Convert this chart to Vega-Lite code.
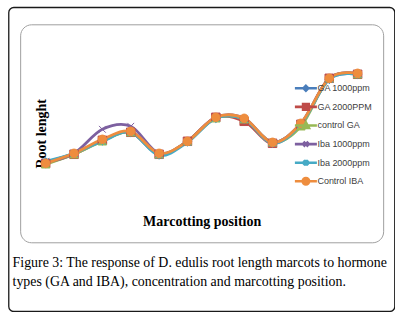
{
  "$schema": "https://vega.github.io/schema/vega-lite/v6.json",
  "padding": {"left": 7.4, "top": 6.3, "right": 0, "bottom": 0},
  "background": "white",
  "columns": 1,
  "align": {"row": "none", "column": "each"},
  "center": true,
  "spacing": -237,
  "config": {"view": {"fill": null}},
  "concat": [
    {
      "width": 363,
      "height": 218,
      "view": {"stroke": "#a0a0a0", "strokeWidth": 1, "cornerRadius": 11},
      "data": {"values": [
        {"series": "GA 1000ppm", "position": 1, "length": 8.0},
        {"series": "GA 1000ppm", "position": 2, "length": 8.9},
        {"series": "GA 1000ppm", "position": 3, "length": 10.2},
        {"series": "GA 1000ppm", "position": 4, "length": 11.0},
        {"series": "GA 1000ppm", "position": 5, "length": 8.8},
        {"series": "GA 1000ppm", "position": 6, "length": 10.1},
        {"series": "GA 1000ppm", "position": 7, "length": 12.4},
        {"series": "GA 1000ppm", "position": 8, "length": 12.3},
        {"series": "GA 1000ppm", "position": 9, "length": 10.0},
        {"series": "GA 1000ppm", "position": 10, "length": 11.8},
        {"series": "GA 1000ppm", "position": 11, "length": 16.3},
        {"series": "GA 1000ppm", "position": 12, "length": 16.8},
        {"series": "GA 2000PPM", "position": 1, "length": 7.9},
        {"series": "GA 2000PPM", "position": 2, "length": 8.8},
        {"series": "GA 2000PPM", "position": 3, "length": 10.2},
        {"series": "GA 2000PPM", "position": 4, "length": 11.0},
        {"series": "GA 2000PPM", "position": 5, "length": 8.8},
        {"series": "GA 2000PPM", "position": 6, "length": 10.1},
        {"series": "GA 2000PPM", "position": 7, "length": 12.5},
        {"series": "GA 2000PPM", "position": 8, "length": 12.1},
        {"series": "GA 2000PPM", "position": 9, "length": 9.9},
        {"series": "GA 2000PPM", "position": 10, "length": 11.8},
        {"series": "GA 2000PPM", "position": 11, "length": 16.4},
        {"series": "GA 2000PPM", "position": 12, "length": 16.8},
        {"series": "control GA", "position": 1, "length": 7.8},
        {"series": "control GA", "position": 2, "length": 8.8},
        {"series": "control GA", "position": 3, "length": 10.1},
        {"series": "control GA", "position": 4, "length": 11.0},
        {"series": "control GA", "position": 5, "length": 8.8},
        {"series": "control GA", "position": 6, "length": 10.1},
        {"series": "control GA", "position": 7, "length": 12.4},
        {"series": "control GA", "position": 8, "length": 12.3},
        {"series": "control GA", "position": 9, "length": 10.0},
        {"series": "control GA", "position": 10, "length": 11.6},
        {"series": "control GA", "position": 11, "length": 16.4},
        {"series": "control GA", "position": 12, "length": 16.8},
        {"series": "Iba 1000ppm", "position": 1, "length": 8.0},
        {"series": "Iba 1000ppm", "position": 2, "length": 8.9},
        {"series": "Iba 1000ppm", "position": 3, "length": 11.3},
        {"series": "Iba 1000ppm", "position": 4, "length": 11.6},
        {"series": "Iba 1000ppm", "position": 5, "length": 8.9},
        {"series": "Iba 1000ppm", "position": 6, "length": 10.1},
        {"series": "Iba 1000ppm", "position": 7, "length": 12.5},
        {"series": "Iba 1000ppm", "position": 8, "length": 12.4},
        {"series": "Iba 1000ppm", "position": 9, "length": 10.0},
        {"series": "Iba 1000ppm", "position": 10, "length": 11.9},
        {"series": "Iba 1000ppm", "position": 11, "length": 16.4},
        {"series": "Iba 1000ppm", "position": 12, "length": 16.9},
        {"series": "Iba 2000ppm", "position": 1, "length": 8.1},
        {"series": "Iba 2000ppm", "position": 2, "length": 8.9},
        {"series": "Iba 2000ppm", "position": 3, "length": 10.1},
        {"series": "Iba 2000ppm", "position": 4, "length": 11.0},
        {"series": "Iba 2000ppm", "position": 5, "length": 8.7},
        {"series": "Iba 2000ppm", "position": 6, "length": 10.0},
        {"series": "Iba 2000ppm", "position": 7, "length": 12.4},
        {"series": "Iba 2000ppm", "position": 8, "length": 12.3},
        {"series": "Iba 2000ppm", "position": 9, "length": 9.9},
        {"series": "Iba 2000ppm", "position": 10, "length": 11.8},
        {"series": "Iba 2000ppm", "position": 11, "length": 16.3},
        {"series": "Iba 2000ppm", "position": 12, "length": 16.8},
        {"series": "Control IBA", "position": 1, "length": 7.9},
        {"series": "Control IBA", "position": 2, "length": 8.9},
        {"series": "Control IBA", "position": 3, "length": 10.3},
        {"series": "Control IBA", "position": 4, "length": 11.1},
        {"series": "Control IBA", "position": 5, "length": 8.9},
        {"series": "Control IBA", "position": 6, "length": 10.1},
        {"series": "Control IBA", "position": 7, "length": 12.5},
        {"series": "Control IBA", "position": 8, "length": 12.4},
        {"series": "Control IBA", "position": 9, "length": 10.0},
        {"series": "Control IBA", "position": 10, "length": 11.9},
        {"series": "Control IBA", "position": 11, "length": 16.4},
        {"series": "Control IBA", "position": 12, "length": 16.9}
      ]},
      "encoding": {
        "x": {
          "field": "position", "type": "ordinal",
          "scale": {"type": "point", "padding": 0.9},
          "axis": {"labels": false, "ticks": false, "domain": false, "grid": false,
            "title": "Marcotting position", "titleFont": "Liberation Serif", "titleFontSize": 14,
            "titleFontWeight": "bold", "titleColor": "black", "titleY": -21, "titleBaseline": "middle",
            "minExtent": 0, "maxExtent": 0}
        },
        "y": {
          "field": "length", "type": "quantitative",
          "scale": {"domain": [0, 21.8], "nice": false, "zero": false},
          "axis": {"labels": false, "ticks": false, "domain": false, "grid": false,
            "title": "Root lenght", "titleFont": "Liberation Serif", "titleFontSize": 14,
            "titleFontWeight": "bold", "titleColor": "black", "titleX": 21, "titleY": 109,
            "titleAngle": -90, "titleBaseline": "middle", "titleAlign": "center",
            "minExtent": 0, "maxExtent": 0}
        },
        "color": {
          "field": "series", "type": "nominal",
          "scale": {
            "domain": ["GA 1000ppm", "GA 2000PPM", "control GA", "Iba 1000ppm", "Iba 2000ppm", "Control IBA"],
            "range": ["#4a7ebb", "#be4b48", "#98b954", "#7d60a0", "#46aac5", "#ee8d3e"]
          },
          "legend": {
            "orient": "none", "legendX": 292, "legendY": 58.5, "title": null, "padding": 0,
            "symbolSize": 64, "rowPadding": 1.6, "labelOffset": 6,
            "labelFont": "Liberation Sans", "labelFontSize": 9, "labelColor": "#404040",
            "encode": {
              "symbols": {
                "update": {
                  "shape": {"signal": "datum.value === 'GA 1000ppm' ? 'M-2.75,0L2.75,0M0,-0.6L0.6,0L0,0.6L-0.6,0Z' : datum.value === 'GA 2000PPM' ? 'M-2.75,0L2.75,0M-0.7,-0.7L0.7,-0.7L0.7,0.7L-0.7,0.7Z' : datum.value === 'control GA' ? 'M-2.75,0L2.75,0M0,-0.75L0.75,0.6L-0.75,0.6Z' : datum.value === 'Iba 1000ppm' ? 'M-2.75,0L2.75,0M-0.6,-0.6L0.6,0.6M-0.6,0.6L0.6,-0.6' : datum.value === 'Iba 2000ppm' ? 'M-2.75,0L2.75,0M-0.6,-0.6L0.6,0.6M-0.6,0.6L0.6,-0.6M0,-0.75L0,0.75' : 'M-2.75,0L2.75,0M-0.8,0A0.8,0.8 0 1,0 0.8,0A0.8,0.8 0 1,0 -0.8,0Z'"},
                  "fill": {"signal": "scale('color', datum.value)"},
                  "stroke": {"signal": "scale('color', datum.value)"},
                  "strokeWidth": {"value": 2.6},
                  "opacity": {"value": 1}
                }
              }
            }
          }
        }
      },
      "layer": [
        {"mark": {"type": "line", "interpolate": "cardinal", "strokeWidth": 2.8}},
        {
          "mark": {"type": "point", "filled": true, "opacity": 1, "size": 72, "strokeWidth": 1},
          "encoding": {
            "shape": {
              "condition": [
                {"test": "datum.series === 'GA 1000ppm'", "value": "diamond"},
                {"test": "datum.series === 'GA 2000PPM'", "value": "square"},
                {"test": "datum.series === 'control GA'", "value": "triangle-up"},
                {"test": "datum.series === 'Iba 1000ppm'", "value": "M-0.8,-0.8L0.8,0.8M-0.8,0.8L0.8,-0.8"},
                {"test": "datum.series === 'Iba 2000ppm'", "value": "M-0.8,-0.8L0.8,0.8M-0.8,0.8L0.8,-0.8M0,-1L0,1"}
              ],
              "value": "circle"
            },
            "stroke": {
              "field": "series", "type": "nominal", "legend": null,
              "scale": {
                "domain": ["GA 1000ppm", "GA 2000PPM", "control GA", "Iba 1000ppm", "Iba 2000ppm", "Control IBA"],
                "range": ["#4a7ebb", "#be4b48", "#98b954", "#7d60a0", "#46aac5", "#ee8d3e"]
              }
            }
          }
        }
      ]
    },
    {
      "width": 386,
      "height": 304,
      "view": {"stroke": "#1a1a1a", "strokeWidth": 1.3, "cornerRadius": 5, "fill": null},
      "data": {"values": [{}]},
      "mark": {"type": "text"},
      "encoding": {},
      "title": {
        "text": ["Figure 3: The response of D. edulis root length marcots to hormone", "types (GA and IBA), concentration and marcotting position."],
        "orient": "bottom", "anchor": "start", "frame": "group", "offset": -55, "dx": 4,
        "font": "Liberation Serif", "fontSize": 13.9, "fontWeight": "normal", "color": "black",
        "lineHeight": 19, "baseline": "top"
      }
    }
  ]
}
